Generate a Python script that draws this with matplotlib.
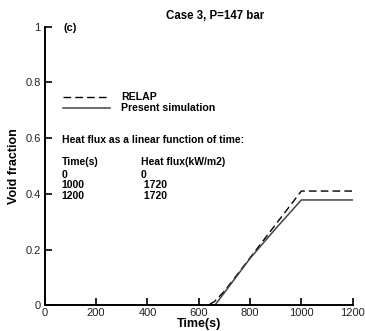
import matplotlib
matplotlib.use('Agg')
import matplotlib.pyplot as plt

plt.rcParams['font.family'] = ['Liberation Sans', 'DejaVu Sans']

# RELAP (dashed) and present simulation (solid)
relap_t = [0, 635, 660, 700, 800, 900, 1000, 1200]
relap_a = [0, 0, 0.012, 0.05, 0.17, 0.29, 0.41, 0.41]
sim_t = [0, 663, 700, 800, 900, 1000, 1200]
sim_a = [0, 0, 0.045, 0.168, 0.275, 0.378, 0.378]

x_ticks = [0, 200, 400, 600, 800, 1000, 1200]
y_ticks = [0, 0.2, 0.4, 0.6, 0.8, 1]

# heat flux table shown on the chart
hf_time = ['0', '1000', '1200']
hf_flux = ['0', ' 1720', ' 1720']

dash = (0, (5.5, 3))
fig = plt.figure(figsize=(3.65, 3.31), dpi=100)
ax = fig.add_axes([0.123, 0.078, 0.843, 0.841])

ax.plot(relap_t, relap_a, color='black', ls=dash, lw=1.0)
ax.plot(sim_t, sim_a, color='#444444', lw=1.1)

ax.set_xlim(0, 1200)
ax.set_ylim(0, 1)
ax.set_xticks(x_ticks)
ax.set_xticklabels([str(v) for v in x_ticks])
ax.set_yticks(y_ticks)
ax.set_yticklabels(['%g' % v for v in y_ticks])
ax.spines['top'].set_visible(False)
ax.spines['right'].set_visible(False)
ax.spines['left'].set_linewidth(1.4)
ax.spines['bottom'].set_linewidth(1.4)
ax.tick_params(direction='in', length=5, width=1.2, labelsize=8, pad=3,
               colors='black', labelcolor='#222222')
ax.tick_params(axis='x', pad=2)

ax.set_xlabel('Time(s)', fontsize=9, fontweight='bold', labelpad=0)
ax.set_ylabel('Void fraction', fontsize=9, fontweight='bold', labelpad=4)

fig.text(0.589, 0.951, 'Case 3, P=147 bar', fontsize=8.3, fontweight='bold',
         ha='center', va='center')
ax.text(74, 0.996, '(c)', fontsize=8, fontweight='bold', va='center')

# legend drawn by hand
ax.plot([70, 253], [0.749, 0.749], color='black', ls=dash, lw=1.0)
ax.plot([70, 253], [0.707, 0.707], color='#444444', lw=1.1)
ax.text(296, 0.749, 'RELAP', fontsize=7.6, fontweight='bold', va='center')
ax.text(296, 0.707, 'Present simulation', fontsize=7.6, fontweight='bold', va='center')

ax.text(66, 0.594, 'Heat flux as a linear function of time:', fontsize=7.5,
        fontweight='bold', va='center')
ax.text(66, 0.515, 'Time(s)', fontsize=7.5, fontweight='bold', va='center')
ax.text(374, 0.515, 'Heat flux(kW/m2)', fontsize=7.5, fontweight='bold', va='center')
ax.text(66, 0.486, '\n'.join(hf_time), fontsize=7.5, fontweight='bold',
        va='top', linespacing=1.04)
ax.text(374, 0.486, '\n'.join(hf_flux), fontsize=7.5, fontweight='bold',
        va='top', linespacing=1.04)

fig.savefig('out.png', dpi=100)
